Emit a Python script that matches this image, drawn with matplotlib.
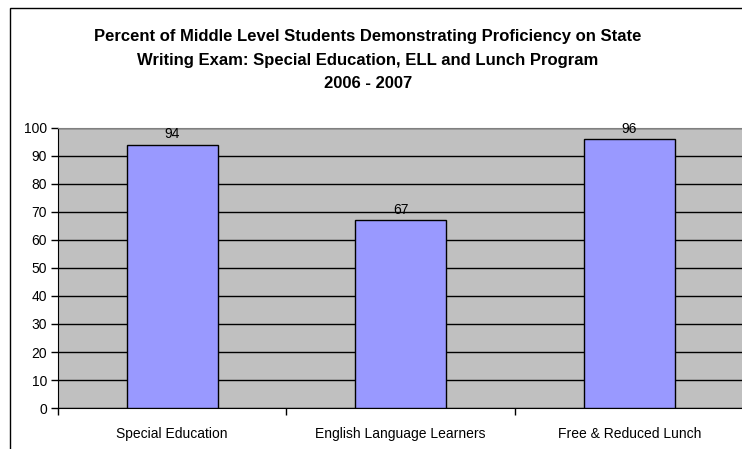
import numpy as np
import matplotlib.pyplot as plt
from matplotlib.patches import Rectangle

plt.rcParams['font.family'] = ['Liberation Sans', 'DejaVu Sans']

categories = ['Special Education', 'English Language Learners', 'Free & Reduced Lunch']
values = [94, 67, 96]
yticks = [0, 10, 20, 30, 40, 50, 60, 70, 80, 90, 100]
title_lines = ['Percent of Middle Level Students Demonstrating Proficiency on State',
               'Writing Exam: Special Education, ELL and Lunch Program',
               '2006 - 2007']

fig = plt.figure(figsize=(7.42, 4.49), dpi=100)

# chart border (right and bottom edges run off the canvas)
fig.patches.append(Rectangle((10 / 742, -0.1), 1.2, 1 - 8 / 449 + 0.1,
                             transform=fig.transFigure, fill=False,
                             edgecolor='black', linewidth=1))

for i, line in enumerate(title_lines):
    fig.text(368 / 742, 1 - (37 + 23 * i) / 449, line,
             ha='center', va='center', fontsize=12, fontweight='bold')

ax = fig.add_axes([58 / 742, 1 - 408 / 449, 1 - 58 / 742 + 0.002, (408 - 128) / 449])
ax.set_facecolor('#C0C0C0')

x = np.arange(len(categories))
bars = ax.bar(x, values, width=0.4, color='#9999FF', edgecolor='black',
              linewidth=1, zorder=3)
for xi, v in zip(x, values):
    ax.text(xi, v + 1.2, str(v), ha='center', va='bottom', fontsize=10)

ax.set_xlim(-0.5, 2.5)
ax.set_ylim(0, 100)
ax.set_yticks(yticks)
ax.yaxis.grid(True, color='black', linewidth=1, zorder=0)
ax.set_axisbelow(True)

# category labels between boundary ticks
ax.set_xticks([-0.5, 0.5, 1.5, 2.5])
ax.set_xticklabels([])
ax.set_xticks(x, minor=True)
ax.set_xticklabels(categories, minor=True, fontsize=10)
ax.tick_params(axis='x', which='minor', length=0, pad=14)
ax.tick_params(axis='x', which='major', length=5, direction='out', width=1)
ax.tick_params(axis='y', length=5, direction='out', width=1, labelsize=10, pad=3)

ax.spines['top'].set_color('#808080')
ax.spines['right'].set_visible(False)
ax.spines['left'].set_color('black')
ax.spines['bottom'].set_color('black')

fig.savefig('out.png', dpi=100)
